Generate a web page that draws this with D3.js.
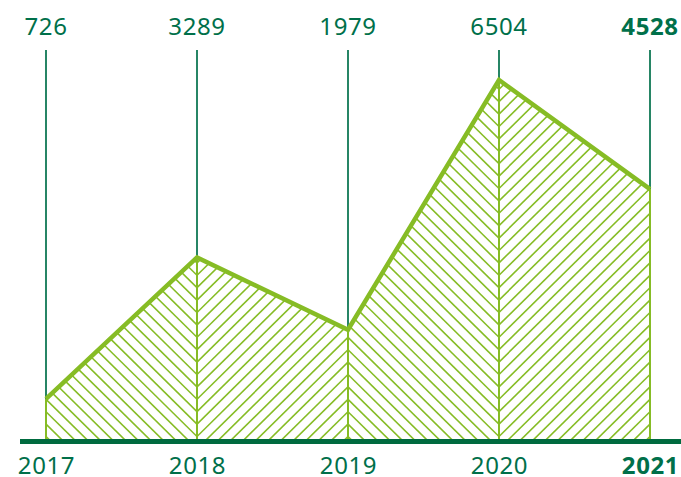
<!DOCTYPE html>
<html>
<head>
<meta charset="utf-8">
<script src="https://cdn.jsdelivr.net/npm/d3@7"></script>
<style>
  html, body { margin: 0; padding: 0; background: #ffffff; }
  svg { display: block; }
  text { font-family: "Noto Sans", "Open Sans", sans-serif; }
</style>
</head>
<body>
<svg id="chart" width="681" height="477"></svg>
<script>
// Yearly values
const years = ["2017", "2018", "2019", "2020", "2021"];
const values = [726, 3289, 1979, 6504, 4528];
const highlightYear = "2021";

const lime = "#86bc25";
const darkGreen = "#00704a";
const baseGreen = "#006b3f";

const W = 681, H = 477;
const svg = d3.select("#chart");

const x = d3.scalePoint().domain(years).range([46, 650]);
const y = d3.scaleLinear().domain([0, d3.max(values)]).range([439, 80]);

const data = years.map((yr, i) => ({ year: yr, value: values[i] }));

const area = d3.area()
  .x(d => x(d.year))
  .y0(y(0))
  .y1(d => y(d.value));

const line = d3.line()
  .x(d => x(d.year))
  .y(d => y(d.value));

const defs = svg.append("defs");

// Each segment between two years gets its own hatch direction,
// alternating so the strokes form chevrons along the year lines.
const step = x.step();
const period = 12.4;
const slope = 12 * period / step;
const base = y(0);

data.slice(0, -1).forEach((d, i) => {
  const seg = [d, data[i + 1]];
  const id = "seg-clip-" + i;
  defs.append("clipPath").attr("id", id)
    .append("path").attr("d", area(seg));

  const x0 = x(d.year), x1 = x(data[i + 1].year);
  const w = x1 - x0;
  const dir = i % 2 === 0 ? 1 : -1;   // 1: "\" strokes, -1: "/" strokes
  const g = svg.append("g").attr("clip-path", `url(#${id})`);
  const lines = [];
  for (let k = -40; k < 60; k++) {
    const yk = base - 2.5 - k * period;
    lines.push({ x1: x0, y1: yk, x2: x1, y2: yk + dir * slope * w });
  }
  g.selectAll("line").data(lines).join("line")
    .attr("x1", l => l.x1).attr("y1", l => l.y1)
    .attr("x2", l => l.x2).attr("y2", l => l.y2)
    .attr("stroke", lime)
    .attr("stroke-width", 1.6);
});

// Vertical lime lines from the base up to each point
svg.append("g").selectAll("line").data(data).join("line")
  .attr("x1", d => x(d.year)).attr("x2", d => x(d.year))
  .attr("y1", base).attr("y2", d => y(d.value))
  .attr("stroke", lime)
  .attr("stroke-width", 2);

// Thin dark lines from the value label down to each point
svg.append("g").selectAll("line").data(data).join("line")
  .attr("x1", d => x(d.year)).attr("x2", d => x(d.year))
  .attr("y1", 50).attr("y2", d => y(d.value))
  .attr("stroke", darkGreen)
  .attr("stroke-width", 1.7);

// Outline of the area
svg.append("path")
  .datum(data)
  .attr("d", line)
  .attr("fill", "none")
  .attr("stroke", lime)
  .attr("stroke-width", 4.5)
  .attr("stroke-linejoin", "miter");

// Baseline
svg.append("line")
  .attr("x1", 20).attr("x2", W)
  .attr("y1", 441.5).attr("y2", 441.5)
  .attr("stroke", baseGreen)
  .attr("stroke-width", 5);

// Value labels
svg.append("g").selectAll("text").data(data).join("text")
  .attr("x", d => x(d.year))
  .attr("y", 35)
  .attr("text-anchor", "middle")
  .attr("font-size", 24)
  .attr("letter-spacing", 0.6)
  .attr("font-weight", d => d.year === highlightYear ? 700 : 400)
  .attr("fill", darkGreen)
  .text(d => d3.format("d")(d.value));

// Year labels
const xAxis = d3.axisBottom(x).tickSize(0).tickPadding(0);
const axisG = svg.append("g")
  .attr("transform", `translate(0, ${base})`)
  .call(xAxis);
axisG.select(".domain").remove();
axisG.selectAll("text")
  .attr("y", 34.5)
  .attr("dy", null)
  .attr("font-size", 24)
  .attr("letter-spacing", 0.6)
  .attr("font-family", "\"Noto Sans\", \"Open Sans\", sans-serif")
  .attr("font-weight", d => d === highlightYear ? 700 : 400)
  .attr("fill", darkGreen);
</script>
</body>
</html>
